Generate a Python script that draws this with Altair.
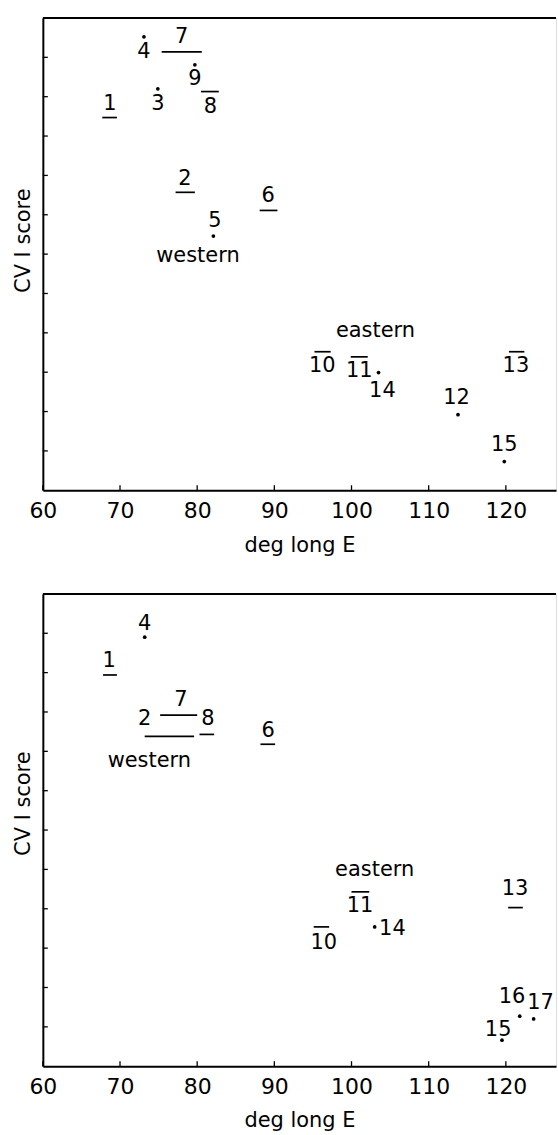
import altair as alt
import pandas as pd

# ---------------- data ----------------
# x: degrees longitude E ; y: CV I score (arbitrary units, axis unlabelled, 12 tick intervals)
X_TICKS = [60, 70, 80, 90, 100, 110, 120]
Y_TICKS = [1, 2, 3, 4, 5, 6, 7, 8, 9, 10, 11]

# ---- top panel ----
A_dot_x = [73.1, 79.7, 74.9, 82.1, 103.5, 113.8, 119.8]
A_dot_y = [11.52, 10.81, 10.20, 6.46, 2.99, 1.92, 0.73]
A_seg_x1 = [75.4, 67.7, 80.5, 77.2, 88.1, 95.2, 99.9, 120.4]
A_seg_x2 = [80.6, 69.6, 82.8, 79.7, 90.4, 97.3, 102.1, 122.4]
A_seg_y = [11.14, 9.47, 10.13, 7.57, 7.11, 3.52, 3.39, 3.52]
A_lab = ["4", "7", "9", "3", "1", "8", "2", "5", "6", "10", "11", "14", "12", "13", "15"]
A_lab_x = [73.1, 78.0, 79.7, 74.9, 68.7, 81.7, 78.4, 82.3, 89.2, 96.2, 101.0, 104.0, 113.6, 121.3, 119.8]
A_lab_y = [11.14, 11.52, 10.46, 9.82, 9.82, 9.75, 7.92, 6.84, 7.47, 3.16, 3.04, 2.53, 2.35, 3.16, 1.16]
A_grp = ["western", "eastern"]
A_grp_x = [80.1, 103.1]
A_grp_y = [5.95, 4.05]

# ---- bottom panel ----
B_dot_x = [73.2, 103.0, 121.8, 123.6, 119.5]
B_dot_y = [10.90, 3.54, 1.27, 1.20, 0.66]
B_seg_x1 = [67.8, 75.2, 73.2, 80.3, 88.2, 100.0, 95.1, 120.3]
B_seg_x2 = [69.6, 80.0, 79.6, 82.2, 90.1, 102.3, 97.1, 122.2]
B_seg_y = [9.94, 8.92, 8.38, 8.43, 8.18, 4.43, 3.54, 4.03]
B_lab = ["4", "1", "7", "2", "8", "6", "11", "14", "10", "13", "16", "17", "15"]
B_lab_x = [73.2, 68.6, 77.9, 73.2, 81.4, 89.2, 101.1, 105.3, 96.4, 121.2, 120.8, 124.5, 119.0]
B_lab_y = [11.24, 10.29, 9.30, 8.82, 8.82, 8.51, 4.08, 3.49, 3.13, 4.51, 1.76, 1.61, 0.92]
B_grp = ["western", "eastern"]
B_grp_x = [73.8, 103.0]
B_grp_y = [7.75, 4.99]

# ---------------- layout ----------------
W = 515
H = 474
FONT = "DejaVu Sans"
XDOM = [60, 126.5]
YDOM = [0, 12]

xs = alt.Scale(domain=XDOM, nice=False, zero=False)
ys = alt.Scale(domain=YDOM, nice=False, zero=False)

AX = alt.Axis(
    title="deg long E",
    values=X_TICKS,
    ticks=False,
    grid=False,
    labelFont=FONT,
    labelFontSize=22,
    labelColor="black",
    labelPadding=10,
    labelFlush=False,
    titleFont=FONT,
    titleFontSize=21,
    titleFontWeight="normal",
    titleColor="black",
    titlePadding=13,
    domainColor="black",
    domainWidth=2,
)


def make_ay(title_y):
    return alt.Axis(
        title="CV I score",
        values=Y_TICKS,
        labels=False,
        ticks=False,
        grid=False,
        titleFont=FONT,
        titleFontSize=21,
        titleFontWeight="normal",
        titleColor="black",
        titlePadding=9,
        titleY=title_y,
        domainColor="black",
        domainWidth=2,
    )


def panel(ay, dot_x, dot_y, sx1, sx2, sy, lab, lx, ly, grp, gx, gy):
    def X(f):
        return alt.X(f, scale=xs, axis=AX, title="deg long E")

    def Y(f):
        return alt.Y(f, scale=ys, axis=ay, title="CV I score")

    dots = alt.Chart(pd.DataFrame({"x": dot_x, "y": dot_y})).mark_circle(
        size=14, color="black", opacity=1
    ).encode(x=X("x:Q"), y=Y("y:Q"))
    segs = alt.Chart(pd.DataFrame({"x": sx1, "x2": sx2, "y": sy})).mark_rule(
        color="black", strokeWidth=1.7
    ).encode(x=X("x:Q"), x2="x2:Q", y=Y("y:Q"))
    texts = alt.Chart(pd.DataFrame({"t": lab, "x": lx, "y": ly})).mark_text(
        font=FONT, fontSize=21, color="black", align="center", baseline="middle"
    ).encode(x=X("x:Q"), y=Y("y:Q"), text="t:N")
    groups = alt.Chart(pd.DataFrame({"t": grp, "x": gx, "y": gy})).mark_text(
        font=FONT, fontSize=21, color="black", align="center", baseline="middle"
    ).encode(x=X("x:Q"), y=Y("y:Q"), text="t:N")
    xt = alt.Chart(pd.DataFrame({"x": X_TICKS})).mark_rule(
        color="black", strokeWidth=1.3
    ).encode(x=X("x:Q"), y=alt.value(H), y2=alt.value(H - 5))
    yt = alt.Chart(pd.DataFrame({"y": Y_TICKS})).mark_rule(
        color="black", strokeWidth=1.3
    ).encode(y=Y("y:Q"), x=alt.value(0), x2=alt.value(5))
    top = alt.Chart(pd.DataFrame({"k": [0]})).mark_rule(
        color="black", strokeWidth=2
    ).encode(x=alt.value(0), x2=alt.value(W), y=alt.value(0))
    return alt.layer(texts, groups, dots, segs, xt, yt, top).properties(
        width=W, height=H
    )


top_panel = panel(make_ay(223), A_dot_x, A_dot_y, A_seg_x1, A_seg_x2, A_seg_y,
                  A_lab, A_lab_x, A_lab_y, A_grp, A_grp_x, A_grp_y)
bottom_panel = panel(make_ay(210), B_dot_x, B_dot_y, B_seg_x1, B_seg_x2, B_seg_y,
                     B_lab, B_lab_x, B_lab_y, B_grp, B_grp_x, B_grp_y)

chart = alt.vconcat(top_panel, bottom_panel, spacing=104, bounds="flush").properties(
    padding={"left": 12, "top": 14, "right": 0, "bottom": 0}
).configure_view(strokeWidth=0, stroke="transparent").configure(background="white")

chart.save("out.html", embed_options={"renderer": "svg", "actions": False})
